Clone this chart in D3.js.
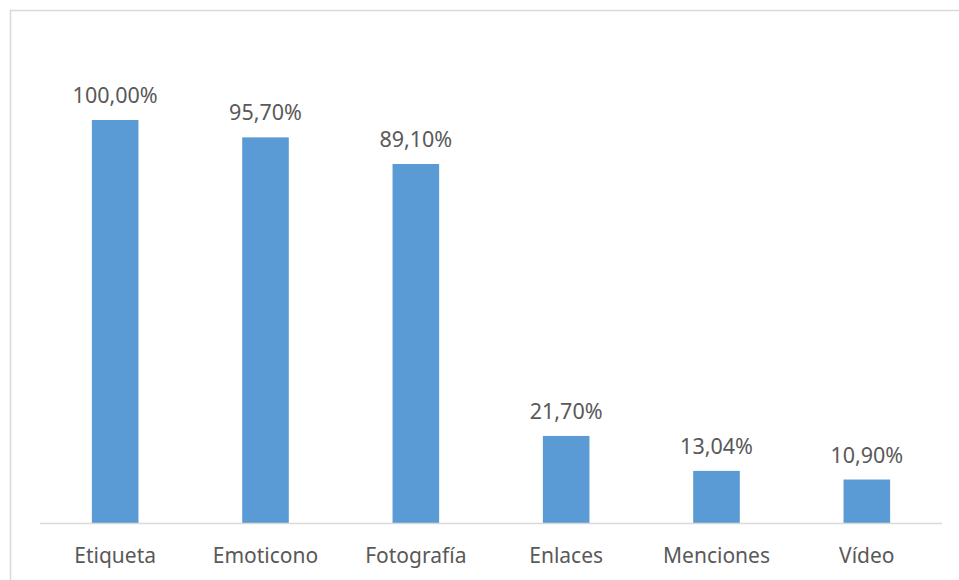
<!DOCTYPE html>
<html>
<head>
<meta charset="utf-8">
<script src="https://cdn.jsdelivr.net/npm/d3@7"></script>
<style>
  body { margin: 0; background: #fff; }
  text { font-family: "Noto Sans", sans-serif; fill: #595959; }
</style>
</head>
<body>
<svg id="chart" width="959" height="580"></svg>
<script>
// chart data
var categories = ["Etiqueta", "Emoticono", "Fotografía", "Enlaces", "Menciones", "Vídeo"];
var values = [100.00, 95.70, 89.10, 21.70, 13.04, 10.90];

var svg = d3.select("#chart");

// outer frame (right and bottom edges fall outside the picture)
svg.append("rect")
    .attr("x", 10.5).attr("y", 10.5)
    .attr("width", 970).attr("height", 600)
    .attr("fill", "none")
    .attr("stroke", "#d9d9d9")
    .attr("stroke-width", 1.5);

var x = d3.scaleBand()
    .domain(categories)
    .range([40, 942])
    .paddingInner(0.69)
    .paddingOuter(0.345);

var y = d3.scaleLinear()
    .domain([0, 100])
    .range([523.5, 120]);

var data = categories.map(function (c, i) {
    return { name: c, value: values[i] };
});

svg.selectAll("rect.bar")
    .data(data)
    .enter().append("rect")
    .attr("class", "bar")
    .attr("x", function (d) { return x(d.name); })
    .attr("y", function (d) { return y(d.value); })
    .attr("width", x.bandwidth())
    .attr("height", function (d) { return y(0) - y(d.value); })
    .attr("fill", "#5b9bd5");

// baseline
svg.append("line")
    .attr("x1", 40).attr("x2", 942)
    .attr("y1", 523.5).attr("y2", 523.5)
    .attr("stroke", "#d9d9d9")
    .attr("stroke-width", 1.5);

// value labels
svg.selectAll("text.val")
    .data(data)
    .enter().append("text")
    .attr("class", "val")
    .attr("x", function (d) { return x(d.name) + x.bandwidth() / 2; })
    .attr("y", function (d) { return y(d.value) - 17; })
    .attr("text-anchor", "middle")
    .style("font-size", "21.5px")
    .text(function (d) { return d.value.toFixed(2).replace(".", ",") + "%"; });

// category labels
svg.selectAll("text.cat")
    .data(data)
    .enter().append("text")
    .attr("class", "cat")
    .attr("x", function (d) { return x(d.name) + x.bandwidth() / 2; })
    .attr("y", 563)
    .attr("text-anchor", "middle")
    .style("font-size", "21px")
    .text(function (d) { return d.name; });
</script>
</body>
</html>
